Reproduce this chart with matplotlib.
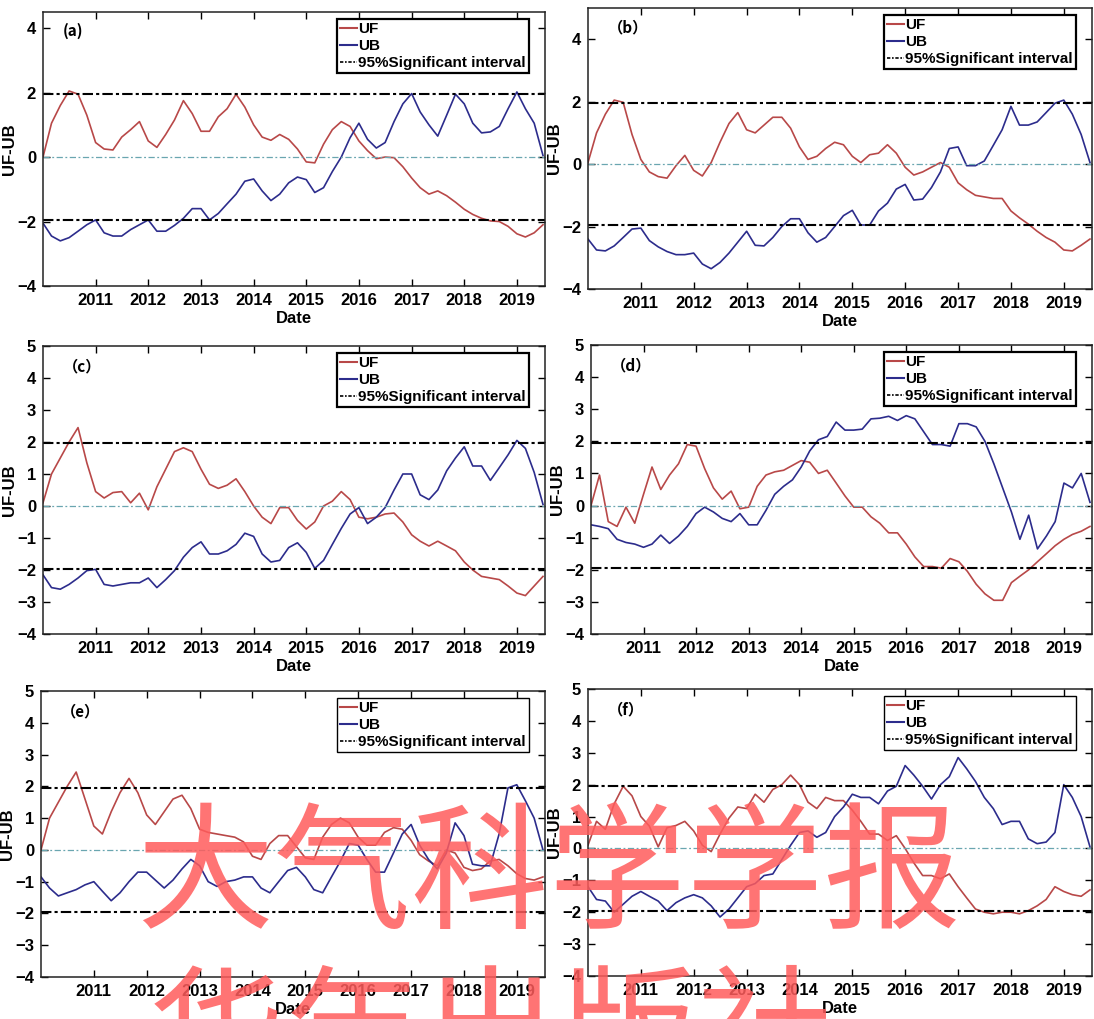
import pandas as pd
import matplotlib
matplotlib.use('Agg')
import matplotlib.pyplot as plt
import matplotlib.dates as mdates
from matplotlib.lines import Line2D

# bimonthly time axis, Jan 2010 .. Jul 2019
dates = pd.date_range('2010-01-01', periods=58, freq='2MS')

uf_a = [0.0, 1.05, 1.6, 2.05, 1.95, 1.3, 0.45, 0.25, 0.22, 0.62, 0.85, 1.1, 0.5, 0.3, 0.7,
        1.15, 1.75, 1.35, 0.8, 0.8, 1.25, 1.5, 1.95, 1.55, 1.0, 0.62, 0.52, 0.7, 0.55, 0.25,
        -0.15, -0.18, 0.4, 0.85, 1.1, 0.95, 0.5, 0.2, -0.05, 0.0, -0.02, -0.3, -0.65, -0.95,
        -1.15, -1.05, -1.2, -1.4, -1.62, -1.78, -1.9, -1.98, -2.0, -2.15, -2.38, -2.48, -2.35, -2.1]
ub_a = [-2.05, -2.45, -2.6, -2.5, -2.3, -2.1, -1.95, -2.35, -2.45, -2.45, -2.25, -2.1, -1.95,
        -2.3, -2.3, -2.12, -1.9, -1.6, -1.6, -1.95, -1.75, -1.45, -1.15, -0.75, -0.68, -1.05,
        -1.35, -1.15, -0.8, -0.62, -0.7, -1.1, -0.95, -0.45, 0.0, 0.6, 1.05, 0.55, 0.28, 0.45,
        1.1, 1.65, 1.97, 1.4, 1.0, 0.65, 1.3, 1.95, 1.65, 1.05, 0.75, 0.78, 0.95, 1.5, 2.02,
        1.5, 1.05, 0.05]

uf_b = [0.05, 1.0, 1.6, 2.05, 1.98, 0.95, 0.15, -0.25, -0.4, -0.45, -0.05, 0.28, -0.2, -0.38,
        0.05, 0.7, 1.3, 1.65, 1.1, 1.0, 1.25, 1.5, 1.5, 1.15, 0.55, 0.15, 0.25, 0.5, 0.7, 0.62,
        0.25, 0.05, 0.3, 0.35, 0.62, 0.35, -0.1, -0.35, -0.25, -0.1, 0.05, -0.1, -0.6, -0.82,
        -1.0, -1.05, -1.1, -1.1, -1.5, -1.72, -1.92, -2.15, -2.35, -2.5, -2.75, -2.78, -2.6, -2.4]
ub_b = [-2.4, -2.75, -2.78, -2.62, -2.35, -2.08, -2.05, -2.45, -2.65, -2.8, -2.9, -2.9, -2.85,
        -3.2, -3.35, -3.15, -2.85, -2.5, -2.15, -2.6, -2.62, -2.35, -2.0, -1.75, -1.75, -2.2,
        -2.5, -2.35, -2.0, -1.65, -1.48, -1.95, -1.95, -1.5, -1.25, -0.8, -0.65, -1.15, -1.12,
        -0.75, -0.25, 0.5, 0.55, -0.05, -0.05, 0.1, 0.6, 1.1, 1.85, 1.25, 1.25, 1.35, 1.65,
        1.95, 2.05, 1.6, 0.95, 0.05]

uf_c = [0.1, 1.0, 1.5, 2.0, 2.45, 1.35, 0.45, 0.25, 0.42, 0.45, 0.1, 0.4, -0.12, 0.6, 1.15,
        1.7, 1.82, 1.7, 1.15, 0.68, 0.55, 0.65, 0.85, 0.45, 0.0, -0.35, -0.55, -0.05, -0.05,
        -0.45, -0.72, -0.5, 0.0, 0.15, 0.45, 0.2, -0.35, -0.4, -0.35, -0.25, -0.22, -0.5, -0.9,
        -1.1, -1.25, -1.1, -1.25, -1.4, -1.75, -2.0, -2.2, -2.25, -2.3, -2.5, -2.72, -2.8, -2.5, -2.2]
ub_c = [-2.15, -2.55, -2.6, -2.45, -2.25, -2.02, -1.98, -2.45, -2.5, -2.45, -2.4, -2.4, -2.25,
        -2.55, -2.3, -2.02, -1.6, -1.3, -1.12, -1.5, -1.5, -1.4, -1.2, -0.85, -0.95, -1.5,
        -1.75, -1.7, -1.3, -1.15, -1.45, -1.95, -1.7, -1.2, -0.7, -0.25, -0.05, -0.55, -0.35,
        -0.05, 0.5, 1.0, 1.0, 0.35, 0.2, 0.5, 1.1, 1.5, 1.85, 1.25, 1.25, 0.8, 1.2, 1.6, 2.05,
        1.8, 1.05, 0.05]

uf_d = [0.0, 0.95, -0.5, -0.65, -0.05, -0.55, 0.35, 1.2, 0.5, 0.95, 1.3, 1.9, 1.85, 1.15, 0.55,
        0.2, 0.45, -0.1, -0.05, 0.6, 0.95, 1.05, 1.1, 1.25, 1.4, 1.35, 1.0, 1.1, 0.7, 0.3, -0.05,
        -0.05, -0.35, -0.55, -0.85, -0.85, -1.2, -1.6, -1.9, -1.9, -1.95, -1.65, -1.75, -2.05,
        -2.45, -2.75, -2.95, -2.95, -2.4, -2.2, -2.0, -1.75, -1.5, -1.25, -1.05, -0.9, -0.8, -0.65]
ub_d = [-0.6, -0.65, -0.72, -1.05, -1.15, -1.2, -1.3, -1.2, -0.92, -1.18, -0.95, -0.65, -0.25,
        -0.05, -0.2, -0.4, -0.5, -0.25, -0.6, -0.6, -0.15, 0.35, 0.6, 0.8, 1.2, 1.7, 2.05, 2.15,
        2.6, 2.35, 2.35, 2.38, 2.7, 2.72, 2.78, 2.65, 2.8, 2.7, 2.3, 1.9, 1.9, 1.85, 2.55, 2.55,
        2.45, 2.0, 1.3, 0.55, -0.2, -1.05, -0.3, -1.35, -0.95, -0.5, 0.7, 0.55, 1.0, 0.1]

uf_e = [0.0, 1.0, 1.5, 2.0, 2.45, 1.6, 0.75, 0.5, 1.2, 1.8, 2.25, 1.8, 1.1, 0.8, 1.2, 1.6, 1.72,
        1.3, 0.65, 0.55, 0.5, 0.45, 0.4, 0.25, -0.2, -0.3, 0.2, 0.45, 0.45, 0.1, -0.25, -0.3,
        0.4, 0.8, 1.0, 0.85, 0.4, 0.15, 0.15, 0.55, 0.7, 0.65, 0.3, -0.15, -0.35, -0.5, 0.0,
        -0.1, -0.55, -0.65, -0.6, -0.35, -0.3, -0.5, -0.75, -0.9, -0.95, -0.85]
ub_e = [-0.85, -1.2, -1.45, -1.35, -1.25, -1.1, -1.0, -1.3, -1.6, -1.35, -1.0, -0.7, -0.7, -0.95,
        -1.2, -0.95, -0.6, -0.3, -0.5, -1.0, -1.15, -1.0, -0.95, -0.85, -0.85, -1.2, -1.35, -1.0,
        -0.65, -0.55, -0.85, -1.25, -1.35, -0.85, -0.35, 0.2, 0.15, -0.3, -0.7, -0.7, -0.1, 0.5,
        0.8, 0.15, -0.3, -0.6, -0.1, 0.85, 0.45, -0.45, -0.5, -0.5, 0.5, 1.95, 2.05, 1.55, 1.0, 0.0]

uf_f = [0.1, 0.85, 0.6, 1.4, 1.95, 1.65, 1.0, 0.7, 0.05, 0.65, 0.72, 0.85, 0.55, 0.1, -0.1, 0.45,
        0.95, 1.3, 1.25, 1.7, 1.45, 1.85, 2.0, 2.3, 2.0, 1.45, 1.25, 1.6, 1.5, 1.5, 1.2, 0.85,
        0.45, 0.45, 0.25, 0.4, 0.0, -0.45, -0.85, -0.85, -0.95, -0.8, -1.2, -1.55, -1.9, -2.0,
        -2.05, -2.0, -2.0, -2.05, -1.95, -1.8, -1.6, -1.2, -1.35, -1.45, -1.5, -1.3]
ub_f = [-1.2, -1.6, -1.65, -2.0, -1.75, -1.5, -1.35, -1.5, -1.65, -1.95, -1.7, -1.55, -1.45,
        -1.55, -1.8, -2.15, -1.9, -1.55, -1.2, -1.1, -0.85, -0.8, -0.35, 0.1, 0.5, 0.55, 0.35,
        0.5, 1.0, 1.3, 1.7, 1.6, 1.6, 1.4, 1.8, 1.95, 2.6, 2.3, 1.95, 1.55, 2.0, 2.25, 2.85, 2.5,
        2.1, 1.6, 1.25, 0.75, 0.85, 0.85, 0.3, 0.15, 0.2, 0.5, 2.0, 1.6, 1.0, 0.05]

labels = ['(a)', '（b）', '（c）', '（d）', '（e）', '（f）']
years = list(range(2011, 2020))
uf_all = [uf_a, uf_b, uf_c, uf_d, uf_e, uf_f]
ub_all = [ub_a, ub_b, ub_c, ub_d, ub_e, ub_f]
y_top = [4.5, 5, 5, 5, 5, 5]

# axes boxes in pixels: left, top, right, bottom
boxes = [(43, 12, 545, 286), (588, 8, 1092, 289),
         (43, 346, 545, 634), (591, 345, 1092, 634),
         (41, 691, 545, 977), (588, 689, 1092, 976)]

W, H = 1094, 1019
plt.rcParams['font.family'] = ['Liberation Sans', 'DejaVu Sans']
plt.rcParams['font.weight'] = 'bold'
plt.rcParams['axes.labelweight'] = 'bold'

uf_color = '#b84848'
ub_color = '#2c2c8c'

fig = plt.figure(figsize=(W / 100, H / 100), dpi=100, facecolor='w')

for i in range(6):
    l, t, r, b = boxes[i]
    ax = fig.add_axes([l / W, 1 - b / H, (r - l) / W, (b - t) / H])
    ax.plot(dates, uf_all[i], color=uf_color, lw=1.2)
    ax.plot(dates, ub_all[i], color=ub_color, lw=1.2)
    ax.axhline(1.96, color='k', lw=1.5, ls=(0, (5, 1.5, 1.5, 1.5)))
    ax.axhline(-1.96, color='k', lw=1.5, ls=(0, (5, 1.5, 1.5, 1.5)))
    ax.axhline(0, color='#6aa6b0', lw=0.9, ls=(0, (5, 2, 1.5, 2)))

    ax.set_xlim(pd.Timestamp('2010-01-01'), pd.Timestamp('2019-07-15'))
    ax.set_ylim(-4, y_top[i])
    if i < 2:
        ax.set_yticks([-4, -2, 0, 2, 4])
    else:
        ax.set_yticks(range(-4, 6))
    ax.set_xticks([pd.Timestamp(f'{y}-01-01') for y in years])
    ax.xaxis.set_major_formatter(mdates.DateFormatter('%Y'))
    ax.tick_params(direction='in', top=True, right=True, length=5, width=1,
                   labelsize=12, pad=5)
    for s in ax.spines.values():
        s.set_linewidth(1.1)
        s.set_color('#222222')
    ax.set_xlabel('Date', fontsize=12, labelpad=2)
    ax.set_ylabel('UF-UB', fontsize=12, labelpad=0)

    handles = [Line2D([], [], color=uf_color, lw=1.5),
               Line2D([], [], color=ub_color, lw=1.5),
               Line2D([], [], color='k', lw=1.2, ls=(0, (2, 1, 1, 1)))]
    leg = ax.legend(handles, ['UF', 'UB', '95%Significant interval'],
                    loc='upper right', bbox_to_anchor=(0.968, 0.975),
                    fontsize=11, handlelength=1.1, handletextpad=0.1,
                    labelspacing=0.2, borderpad=0.2, borderaxespad=0,
                    fancybox=False, framealpha=1)
    leg.get_frame().set_edgecolor('k')
    leg.get_frame().set_linewidth(1.6 if i < 4 else 1.0)

    ax.text(0.04, 0.93, labels[i], transform=ax.transAxes, fontsize=11,
            fontweight='bold', family=['Noto Sans CJK SC', 'DejaVu Sans'],
            va='center')

# watermark laid over the figure
fig.text(0.124, 0.137, '大气科学学报', fontsize=99, color='#ff5c5c', alpha=0.85,
         family=['Noto Sans CJK SC'], fontweight='medium', va='center', zorder=20)
fig.text(0.135, -0.022, '华年出版社', fontsize=99, color='#ff5c5c', alpha=0.85,
         family=['Noto Sans CJK SC'], fontweight='medium', va='center', zorder=20)

fig.savefig('out.png', dpi=100)
plt.close()
